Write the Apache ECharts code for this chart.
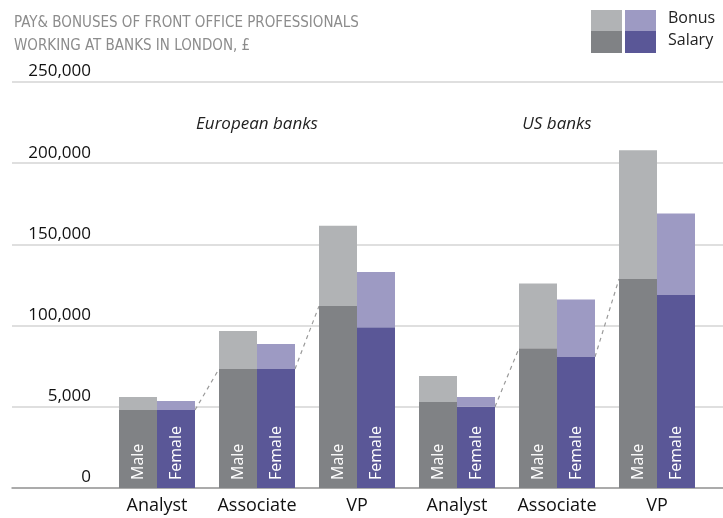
<!DOCTYPE html>
<html>
<head>
<meta charset="utf-8">
<script src="https://cdn.jsdelivr.net/npm/echarts@6/dist/echarts.min.js"></script>
<style>
  html, body { margin: 0; padding: 0; background: #fff; }
  #chart { width: 723px; height: 518px; }
</style>
</head>
<body>
<div id="chart"></div>
<script>
const categories = ['Analyst', 'Associate', 'VP', 'Analyst', 'Associate', 'VP'];
const maleSalary = [48000, 73300, 112000, 53000, 86000, 128700];
const maleBonus = [8000, 23400, 49500, 16000, 40000, 79300];
const femaleSalary = [48000, 73300, 99000, 50000, 80700, 118800];
const femaleBonus = [5600, 15400, 34000, 6000, 35300, 50200];
const yTickLabels = ['0', '5,000', '100,000', '150,000', '200,000', '250,000'];
const bankGroups = ['European banks', 'US banks'];
const bankGroupCenters = [1, 4];   // category index under each group title
const bankGroupLevel = 224000;     // height of the group titles in axis units

const colors = {
  maleSalary: '#808285',
  maleBonus: '#b1b3b5',
  femaleSalary: '#5a5797',
  femaleBonus: '#9d9ac3'
};

const font = "'Open Sans', Lato, sans-serif";
const barWidth = 38;
const bandWidth = 100;
const half = barWidth / bandWidth;

// dashed links: female salary top (right edge) -> next male salary top (left edge), within each bank group
const links = [];
[0, 1, 3, 4].forEach(i => {
  links.push([i + 0.5 + half, femaleSalary[i]]);
  links.push([i + 1.5 - half, maleSalary[i + 1]]);
  links.push('-');
});

const chart = echarts.init(document.getElementById('chart'));

function barLabel(text) {
  return {
    show: true,
    formatter: text,
    position: 'insideBottom',
    rotate: 90,
    align: 'left',
    verticalAlign: 'middle',
    distance: 8,
    color: '#fff',
    fontFamily: font,
    fontSize: 16
  };
}

chart.setOption({
  animation: false,
  textStyle: { fontFamily: font },
  title: {
    text: 'PAY& BONUSES OF FRONT OFFICE PROFESSIONALS\nWORKING AT BANKS IN LONDON, £',
    left: 9,
    top: 7,
    textStyle: {
      color: '#8c8c8c',
      fontWeight: 'normal',
      fontSize: 15,
      lineHeight: 23,
      fontFamily: "'Liberation Sans Narrow', 'DejaVu Sans Condensed', Roboto, sans-serif"
    }
  },
  grid: [
    { left: 12, right: 0, top: 82, bottom: 30 },
    { left: 107, right: 16, top: 82, bottom: 30 }
  ],
  xAxis: [
    {
      gridIndex: 0, type: 'value', min: 0, max: 1,
      axisLine: { show: true, onZero: false, lineStyle: { color: '#9a9a9a', width: 1.5 } },
      axisTick: { show: false }, axisLabel: { show: false }, splitLine: { show: false }
    },
    {
      gridIndex: 1, type: 'category', data: categories,
      axisLine: { show: false }, axisTick: { show: false },
      axisLabel: { interval: 0, color: '#111', fontSize: 18, margin: 9, fontFamily: font }
    },
    {
      gridIndex: 1, type: 'value', min: 0, max: categories.length, show: false
    }
  ],
  yAxis: [
    {
      gridIndex: 0, type: 'value', min: 0, max: 250000, interval: 50000,
      axisLine: { show: false }, axisTick: { show: false },
      splitLine: { lineStyle: { color: '#d4d4d4', width: 1.5 } },
      axisLabel: {
        inside: true, align: 'right', verticalAlign: 'bottom', margin: 79,
        color: '#111', fontSize: 17, fontFamily: font, padding: [0, 0, 2, 0],
        formatter: v => yTickLabels[Math.round(v / 50000)]
      }
    },
    {
      gridIndex: 1, type: 'value', min: 0, max: 250000, interval: 50000, show: false
    }
  ],
  series: [
    {
      name: 'Male salary', type: 'bar', xAxisIndex: 1, yAxisIndex: 1, stack: 'male',
      barWidth: barWidth, barGap: '0%', data: maleSalary,
      itemStyle: { color: colors.maleSalary }, label: barLabel('Male')
    },
    {
      name: 'Male bonus', type: 'bar', xAxisIndex: 1, yAxisIndex: 1, stack: 'male',
      barWidth: barWidth, barGap: '0%', data: maleBonus,
      itemStyle: { color: colors.maleBonus }
    },
    {
      name: 'Female salary', type: 'bar', xAxisIndex: 1, yAxisIndex: 1, stack: 'female',
      barWidth: barWidth, barGap: '0%', data: femaleSalary,
      itemStyle: { color: colors.femaleSalary }, label: barLabel('Female')
    },
    {
      name: 'Female bonus', type: 'bar', xAxisIndex: 1, yAxisIndex: 1, stack: 'female',
      barWidth: barWidth, barGap: '0%', data: femaleBonus,
      itemStyle: { color: colors.femaleBonus }
    },
    {
      name: 'links', type: 'line', xAxisIndex: 2, yAxisIndex: 1, data: links,
      symbol: 'none', connectNulls: false, silent: true, z: 1,
      lineStyle: { color: '#9a9a9a', width: 1.2, type: [4, 4] }
    }
  ]
});

// legend swatches + group titles
const groupTitles = bankGroups.map((name, k) => {
  const p = chart.convertToPixel({ xAxisIndex: 1, yAxisIndex: 1 }, [bankGroupCenters[k], bankGroupLevel]);
  return {
    type: 'text', x: p[0], y: p[1],
    style: { text: name, font: 'italic 17px ' + font, fill: '#222', align: 'center', verticalAlign: 'middle' }
  };
});

chart.setOption({
  graphic: [
    { type: 'rect', left: 591, top: 10, shape: { width: 31, height: 21 }, style: { fill: colors.maleBonus } },
    { type: 'rect', left: 625, top: 10, shape: { width: 31, height: 21 }, style: { fill: colors.femaleBonus } },
    { type: 'rect', left: 591, top: 31, shape: { width: 31, height: 22 }, style: { fill: colors.maleSalary } },
    { type: 'rect', left: 625, top: 31, shape: { width: 31, height: 22 }, style: { fill: colors.femaleSalary } },
    { type: 'text', left: 668, top: 10, style: { text: 'Bonus', font: '16px ' + font, fill: '#222' } },
    { type: 'text', left: 668, top: 32, style: { text: 'Salary', font: '16px ' + font, fill: '#222' } }
  ].concat(groupTitles)
});
</script>
</body>
</html>
